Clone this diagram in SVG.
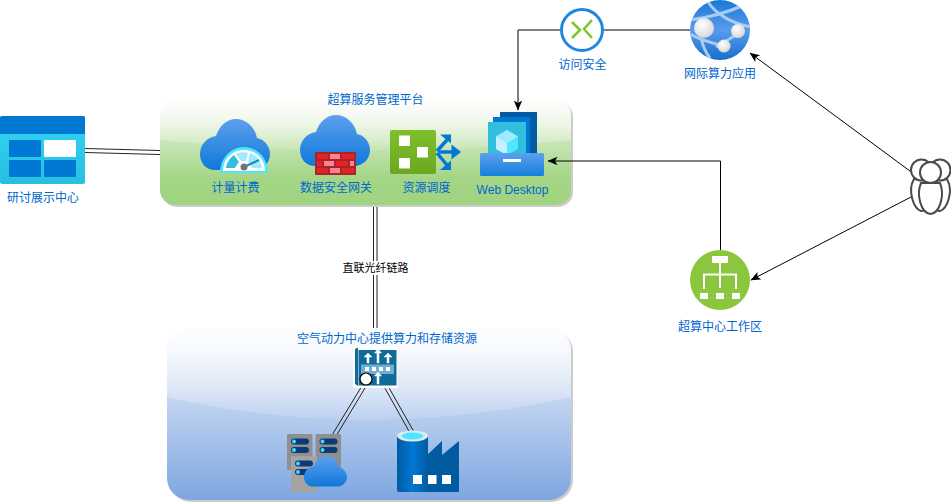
<svg xmlns="http://www.w3.org/2000/svg" width="951" height="504" viewBox="0 0 951 504">
<style>
text{font-family:"Liberation Sans","Noto Sans CJK SC",sans-serif;font-size:12px;fill:#0066cc;text-anchor:middle}
.conn{fill:none;stroke:#000;stroke-width:1}
.dbl{fill:none;stroke:#222;stroke-width:1}
.w{fill:#fff}
.u{fill:#fff;stroke:#4a4a4a;stroke-width:2}
.srv{fill:#0b3a78}
.led{fill:#40d8ff}
</style>
<defs>
<marker id="arr" markerWidth="11" markerHeight="11" refX="9.500" refY="5" orient="auto" markerUnits="userSpaceOnUse"><path d="M0,0.800 L10,5 L0,9.200 L2.500,5Z" fill="#000"/></marker>
<clipPath id="globeClip"><circle cx="720" cy="30" r="30"/></clipPath>
<linearGradient id="gGreen" x1="0" y1="0" x2="0" y2="1"><stop offset="0" stop-color="#f2f8ee"/><stop offset="0.75" stop-color="#a3d585"/><stop offset="1" stop-color="#a0d480"/></linearGradient>
<linearGradient id="gBlue" x1="0" y1="0" x2="0" y2="1"><stop offset="0" stop-color="#f2f6fd"/><stop offset="1" stop-color="#7ea6e0"/></linearGradient>
<linearGradient id="gGlass" x1="0" y1="0" x2="0" y2="1"><stop offset="0" stop-color="#fff" stop-opacity="0.85"/><stop offset="1" stop-color="#fff" stop-opacity="0.1"/></linearGradient>
<linearGradient id="gCloud" x1="0" y1="0" x2="0" y2="1"><stop offset="0" stop-color="#5ea0ef"/><stop offset="1" stop-color="#0f78d8"/></linearGradient>
<linearGradient id="gTray" x1="0" y1="0" x2="0" y2="1"><stop offset="0" stop-color="#5ea0ef"/><stop offset="1" stop-color="#1380dc"/></linearGradient>
<linearGradient id="gTab" x1="0" y1="0" x2="0" y2="1"><stop offset="0" stop-color="#32d4f5"/><stop offset="1" stop-color="#28bfe0"/></linearGradient>
<linearGradient id="gGrn" x1="0" y1="0" x2="0" y2="1"><stop offset="0" stop-color="#7fbf2a"/><stop offset="1" stop-color="#6aa820"/></linearGradient>
<linearGradient id="gCyl" x1="0" y1="0" x2="1" y2="0"><stop offset="0" stop-color="#005ba1"/><stop offset="0.5" stop-color="#0078d4"/><stop offset="1" stop-color="#005ba1"/></linearGradient>
<radialGradient id="gBall" cx="0.4" cy="0.35" r="0.7"><stop offset="0" stop-color="#fff"/><stop offset="1" stop-color="#d4d4d4"/></radialGradient>
<linearGradient id="gGlobe" x1="0" y1="0" x2="0" y2="1"><stop offset="0" stop-color="#1878d6"/><stop offset="0.5" stop-color="#5a9bec"/><stop offset="1" stop-color="#1570cc"/></linearGradient>
<path id="cloud" d="M15,51 C6,51 0,44 0,35 C0,26 7,18 16,17 C19,7 27,0 36,0 C46,0 55,8 57,19 C64,20 70,27 70,35 C70,44 63,51 54,51 Z"/>
<g id="srvbox">
<rect width="25.500" height="36" rx="1" fill="#8f8f8f"/>
<rect x="4" y="4.500" width="18" height="6" rx="3" class="srv"/><circle cx="7" cy="7.500" r="2" class="led"/>
<rect x="4" y="13" width="18" height="6" rx="3" class="srv"/><circle cx="7" cy="16" r="2" class="led"/>
</g>
</defs>

<g id="container-platform">
<rect x="162" y="102" width="411" height="105" rx="15" fill="#999" opacity="0.5"/>
<rect x="160" y="100" width="411" height="105" rx="15" fill="url(#gGreen)"/>
<path d="M160,115 a15,15 0 0 1 15,-15 H556 a15,15 0 0 1 15,15 V140 Q365,162 160,140 Z" fill="url(#gGlass)"/>
</g>
<g id="container-resources">
<rect x="169" y="330" width="404" height="172" rx="22" fill="#999" opacity="0.5"/>
<rect x="167" y="328" width="404" height="172" rx="22" fill="url(#gBlue)"/>
<path d="M167,350 a22,22 0 0 1 22,-22 H549 a22,22 0 0 1 22,22 V397 Q369,443 167,397 Z" fill="url(#gGlass)"/>
</g>

<g id="connectors">
<path class="conn" d="M560,30 H518 V110" marker-end="url(#arr)"/>
<path class="conn" d="M604,30 H690"/>
<path class="conn" d="M912,172.500 L750,53" marker-end="url(#arr)"/>
<path class="conn" d="M911,197 L751,280" marker-end="url(#arr)"/>
<path class="conn" d="M720.500,250 V161 H548" marker-end="url(#arr)"/>
<path class="dbl" d="M85,148.500 L160,150.500 M85,152.500 L160,154.500"/>
<path class="dbl" d="M373.500,207 V328 M377,207 V328"/>
<path class="dbl" d="M360.700,388 L332.700,434 M365,388 L336.700,435"/>
<path class="dbl" d="M385,388.300 L409.300,431.700 M389.300,388.300 L413.300,430.700"/>
<rect x="341" y="261" width="69" height="14" fill="#fff"/>
<text x="375.500" y="272" style="font-size:11px;fill:#000">直联光纤链路</text>
</g>

<g id="label-platform"><text x="375.500" y="104">超算服务管理平台</text></g>
<g id="label-resources"><text x="387" y="343">空气动力中心提供算力和存储资源</text></g>

<g id="node-showcase">
<rect x="0" y="116" width="85" height="68" rx="2" fill="url(#gTab)"/>
<path d="M0,134 V118 a2,2 0 0 1 2,-2 H83 a2,2 0 0 1 2,2 V134 Z" fill="#0078d4"/>
<rect x="9" y="140" width="32" height="17" rx="1" fill="#0078d4"/>
<rect x="44" y="140" width="32" height="17" rx="1" class="w"/>
<rect x="9" y="160" width="32" height="17" rx="1" fill="#0078d4"/>
<rect x="44" y="160" width="32" height="17" rx="1" fill="#0078d4"/>
<text x="43" y="202">研讨展示中心</text>
</g>

<g id="node-billing">
<use href="#cloud" x="200" y="119" fill="url(#gCloud)"/>
<path d="M220,173 C220,158 231,147 244,147 C257,147 268,158 268,173 Z" fill="#50e6ff"/>
<path d="M223,171 C223,159 232,150 244,150 C256,150 265,159 265,171 Z" class="w"/>
<path d="M226,168 C227,162 230,158 234,155 L239,162 C237,164 236,166 235,168 Z" fill="#32bedd"/>
<path d="M236,154 C240,152 244,152 248,153 L246,161 C244,161 243,161 241,161 Z" fill="#9cebff"/>
<path d="M250,153 C255,155 260,159 262,168 L252,168 C251,165 250,164 248,162 Z" fill="#9cebff"/>
<path d="M244,167 L259,160" stroke="#1a86a8" stroke-width="2" fill="none"/>
<circle cx="244" cy="167" r="3.500" fill="#767676"/>
<text x="235.500" y="192">计量计费</text>
</g>

<g id="node-gateway">
<use href="#cloud" x="300" y="115" fill="url(#gCloud)"/>
<rect x="315" y="152" width="41" height="23" rx="1" fill="#a4262c"/>
<g fill="#e62323">
<rect x="317" y="154" width="11" height="5"/><rect x="342" y="154" width="12" height="5"/>
<rect x="317" y="161" width="5" height="5"/><rect x="336" y="161" width="12" height="5"/>
<rect x="317" y="168" width="11" height="5"/><rect x="342" y="168" width="12" height="5"/>
</g>
<g fill="#ff8090">
<rect x="330" y="154" width="10" height="5"/><rect x="324" y="161" width="10" height="5"/>
<rect x="350" y="161" width="4" height="5"/><rect x="330" y="168" width="10" height="5"/>
</g>
<text x="336" y="192">数据安全网关</text>
</g>

<g id="node-scheduler">
<rect x="390" y="130" width="46" height="44" rx="2" fill="url(#gGrn)"/>
<rect x="399" y="135.500" width="11" height="10.500" class="w"/>
<rect x="417" y="147" width="11" height="10.500" class="w"/>
<rect x="399" y="158" width="11" height="10.500" class="w"/>
<path d="M439,152 H452" stroke="#0078d4" stroke-width="3.500" fill="none"/>
<path d="M451.500,144.500 L461,152 L451.500,159.500 Z" fill="#0078d4"/>
<path d="M437,151 L447,140 M437,153 L447,165" stroke="#0078d4" stroke-width="3.500" fill="none"/>
<path d="M440,134.500 H451 V143.500 Z M440,170 H451 V160.500 Z" fill="#0078d4"/>
<text x="426.500" y="192">资源调度</text>
</g>

<g id="node-desktop">
<rect x="500" y="112" width="37" height="45" fill="#005ba1"/>
<rect x="493" y="117" width="37" height="40" fill="#0078d4"/>
<rect x="488" y="122" width="38" height="35" fill="#32bedd"/>
<path d="M507,130 L518,136.500 V149 L507,155 L496,149 V136.500 Z" fill="#50e6ff"/>
<path d="M507,130 L518,136.500 L507,143 L496,136.500 Z" fill="#9cebff"/>
<path d="M507,143 V155 L496,149 V136.500 Z" fill="#c3f1ff"/>
<rect x="480" y="153" width="64" height="23" rx="1.500" fill="url(#gTray)"/>
<rect x="503" y="159" width="18" height="3" class="w"/>
<text x="512.500" y="194">Web Desktop</text>
</g>

<g id="node-security">
<circle cx="582" cy="30" r="20.500" fill="#fff" stroke="#1e88e0" stroke-width="3"/>
<path d="M572,22 L580,30 L572,38 M592,20 L584,29 L592,38" fill="none" stroke="#7cc62e" stroke-width="2.500"/>
<text x="582.500" y="69">访问安全</text>
</g>

<g id="node-webapp">
<circle cx="720" cy="30" r="30" fill="url(#gGlobe)"/>
<path clip-path="url(#globeClip)" d="M708,2 C716,14 732,24 752,27 M690,20 C712,17 728,12 742,6 M701,38 C703,47 706,53 710,58 M736,35 L716,47 M690,34 C700,40 712,43 724,46" fill="none" stroke="#a8cdf5" stroke-width="3"/>
<circle cx="704" cy="28" r="10" fill="url(#gBall)"/>
<circle cx="738" cy="31" r="7" fill="url(#gBall)"/>
<circle cx="724" cy="46" r="6.500" fill="url(#gBall)"/>
<text x="720" y="78">网际算力应用</text>
</g>

<g id="node-workspace">
<circle cx="720" cy="280" r="30" fill="#8cc63f"/>
<rect x="712" y="256" width="16" height="7" class="w"/>
<path d="M720,263 V288 M704,289 V274.500 H736 V289" fill="none" stroke="#fff" stroke-width="2"/>
<rect x="700" y="293" width="8" height="6" class="w"/>
<rect x="716" y="293" width="8" height="6" class="w"/>
<rect x="732" y="293" width="8" height="6" class="w"/>
<text x="720" y="331">超算中心工作区</text>
</g>

<g id="node-users">
<path class="u" d="M914,179 C907,191 914,209 921,211 C926,212 930,200 928,180 Z"/>
<path class="u" d="M947,179 C954,191 947,209 940,211 C935,212 931,200 933,180 Z"/>
<circle class="u" cx="921.500" cy="170" r="10.500"/>
<circle class="u" cx="940" cy="170" r="10.500"/>
<path class="u" d="M921,183 C916,195 921,213 930.500,214 C940,213 945,195 940,183 Z"/>
<circle class="u" cx="930.500" cy="172.500" r="10.500"/>
</g>

<g id="node-switch">
<rect x="353" y="346.500" width="44.500" height="41.500" fill="#fff"/>
<path d="M355,349 L358,347.500 V386 L355,384 Z" fill="#0f6b9c"/>
<rect x="358.500" y="350" width="38" height="35.500" fill="#0f6b9c"/>
<rect x="361" y="364.500" width="33" height="9.500" fill="#6fb0d0"/>
<g class="w"><rect x="365" y="367" width="4" height="4"/><rect x="372" y="367" width="4" height="4"/><rect x="379" y="367" width="4" height="4"/><rect x="386" y="367" width="4" height="4"/></g>
<path d="M367,363 V357 H364 L368,353 L372,357 H369 V363 Z M377,363 V353 H374.500 L378,349 L381.500,353 H379 V363 Z M387,363 V357 H384 L388,353 L392,357 H389 V363 Z M377,384 V376 H374.500 L378,372 L381.500,376 H379 V384 Z" fill="#fff" stroke="#fff" stroke-width="0.500"/>
<circle cx="366" cy="379" r="6" fill="#fff" stroke="#000" stroke-width="1.200"/>
</g>

<g id="node-compute">
<use href="#srvbox" x="287" y="434"/>
<use href="#srvbox" x="315.500" y="434"/>
<rect x="291" y="456" width="26" height="36" fill="#a3a3a3"/>
<rect x="295" y="460.500" width="18" height="6" rx="3" class="srv"/><circle cx="298" cy="463.500" r="2" class="led"/>
<rect x="295" y="469" width="18" height="6" rx="3" class="srv"/><circle cx="298" cy="472" r="2" class="led"/>
<use href="#cloud" transform="translate(304,456) scale(0.614,0.6)" fill="url(#gCloud)"/>
</g>

<g id="node-factory">
<path d="M427,492 V455 L442,441 V455 L459,441 V492 Z" fill="#005ba1"/>
<path d="M397,436 H428 V490 a2,2 0 0 1 -2,2 H399 a2,2 0 0 1 -2,-2 Z" fill="url(#gCyl)"/>
<ellipse cx="412.500" cy="436" rx="15.500" ry="5.500" fill="#e0e8f0"/>
<ellipse cx="412.500" cy="436" rx="11" ry="3.500" fill="#50e6ff"/>
<rect x="413" y="475" width="9" height="9" class="w"/>
<rect x="428" y="475" width="8.500" height="9" class="w"/>
<rect x="442" y="475" width="9" height="9" class="w"/>
</g>
</svg>
